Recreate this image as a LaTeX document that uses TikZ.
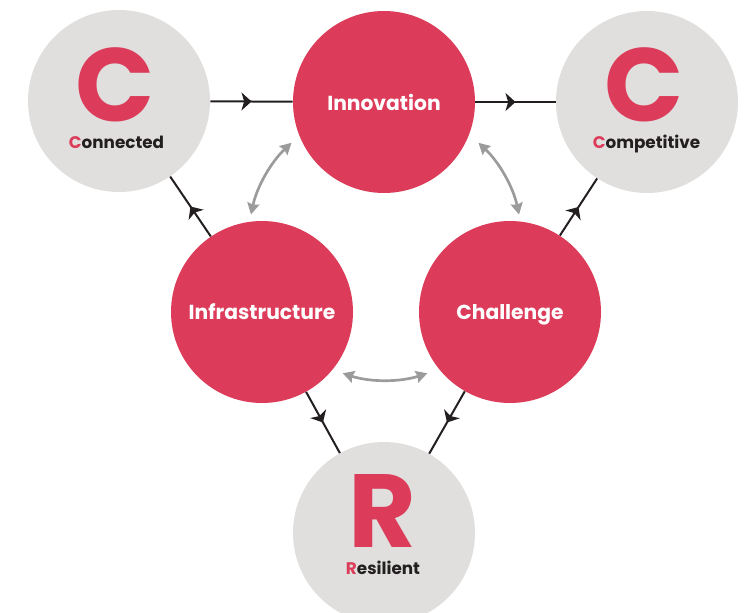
\documentclass[tikz,border=0pt]{standalone}
\usepackage{fontspec}
\setmainfont{Poppins}
\usetikzlibrary{arrows.meta}
\usetikzlibrary{decorations.markings}

\definecolor{crimson}{HTML}{DC3C5A}
\definecolor{pebble}{HTML}{E0DFDE}
\definecolor{ink}{HTML}{231F20}
\definecolor{ash}{HTML}{9B9B9B}

\begin{document}
\begin{tikzpicture}[x=0.75pt,y=0.75pt,
  ball/.style={circle,inner sep=0pt,minimum size=136.5pt},
  redball/.style={ball,fill=crimson,text=white,text depth=0pt,
    font=\bfseries\fontsize{15.2}{17}\selectfont},
  greyball/.style={ball,fill=pebble},
  bigletter/.style={inner sep=0pt,text=crimson,font=\bfseries\fontsize{78}{78}\selectfont},
  tag/.style={inner sep=0pt,anchor=base,text=ink,font=\bfseries\fontsize{12.6}{14}\selectfont},
  flow/.style={draw=ink,line width=1.5pt,postaction={decorate},
    decoration={markings,mark=at position 0.5 with {\arrow{Stealth[length=7.5pt,width=13.5pt,inset=2pt]}}}},
  feedback/.style={draw=ash,line width=2pt,{Stealth[length=8.5pt,width=9pt,inset=1pt]}-{Stealth[length=8.5pt,width=9pt,inset=1pt]}}
]
  \useasboundingbox (0,0) rectangle (747,612);
  \clip (0,0) rectangle (747,612);
  \node[greyball] (conn) at (119,511) {};
  \node[greyball] (comp) at (647,510) {};
  \node[greyball] (resil) at (384,79) {};
  \node[redball] (innov) at (384,510) {Innovation};
  \node[redball] (infra) at (262,300) {Infrastructure};
  \node[redball] (chal) at (510,300) {Challenge};
  \node[bigletter] (connC) at (115,527) {C};
  \node[bigletter] (compC) at (644,527) {C};
  \node[bigletter] (resilR) at (382,101) {R};
  \node[tag] (connT) at (116.5,464) {{\color{crimson}C}onnected};
  \node[tag] (compT) at (646.5,464) {{\color{crimson}C}ompetitive};
  \node[tag] (resilT) at (383,38) {{\color{crimson}R}esilient};
  \draw[flow] (conn) -- (innov);
  \draw[flow] (innov) -- (comp);
  \draw[flow] (infra) -- (conn);
  \draw[flow] (chal) -- (comp);
  \draw[flow] (infra) -- (resil);
  \draw[flow] (chal) -- (resil);
  \coordinate (hub) at (385,369);
  \draw[feedback] ([shift={(133:137)}]hub) arc (133:168:137);
  \draw[feedback] ([shift={(47:137)}]hub) arc (47:12:137);
  \draw[feedback] ([shift={(-108:137)}]hub) arc (-108:-72:137);
\end{tikzpicture}
\end{document}
